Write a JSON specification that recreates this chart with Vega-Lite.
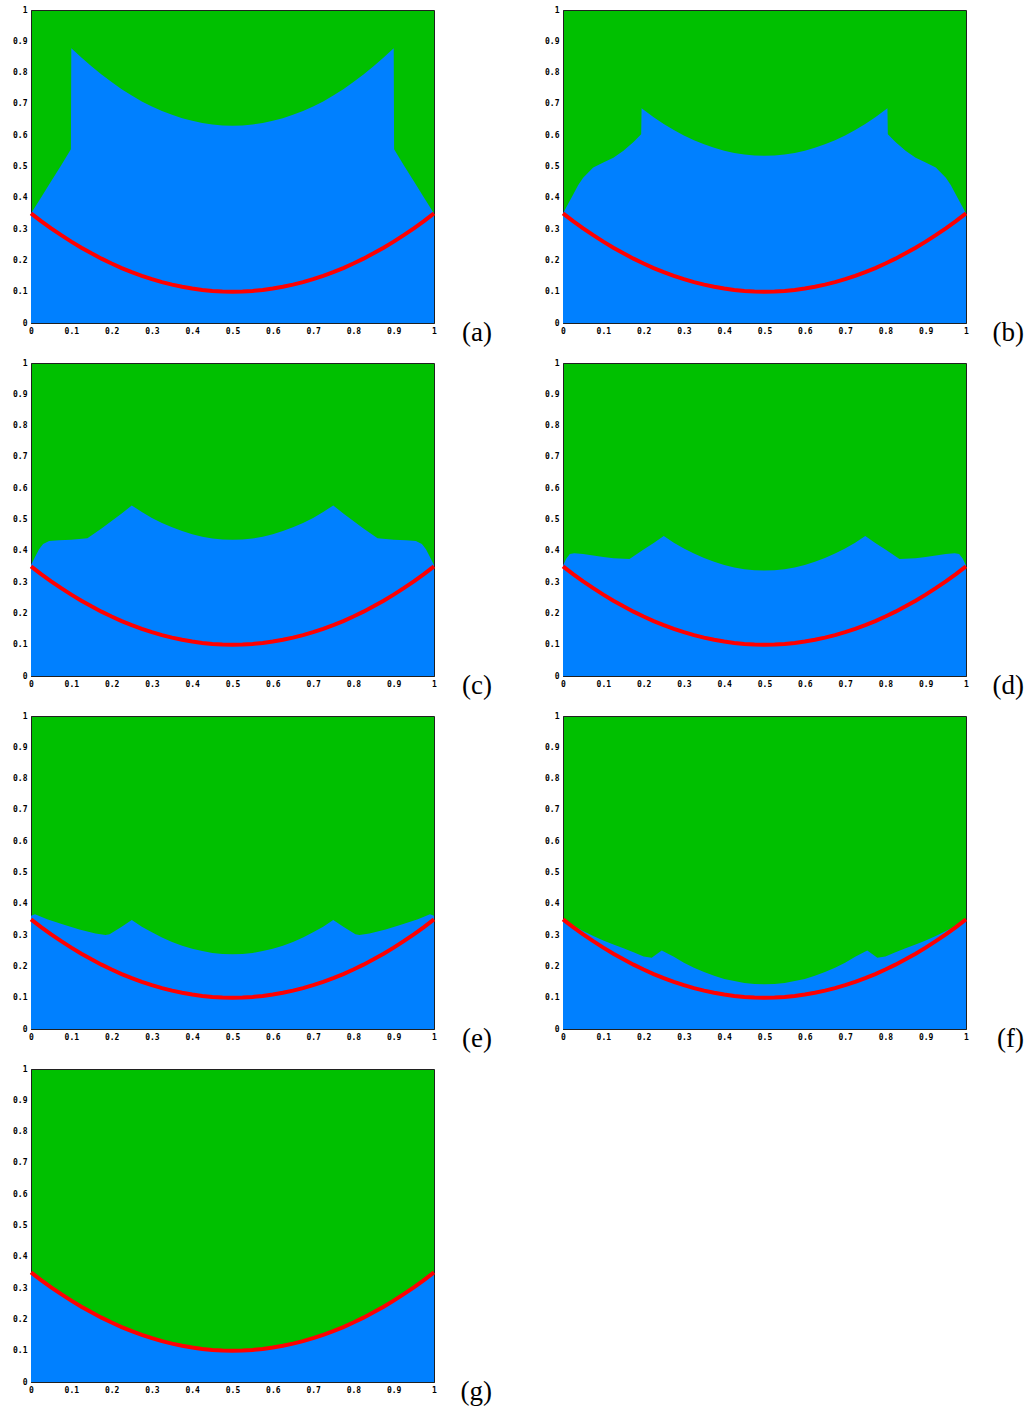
{
"$schema": "https://vega.github.io/schema/vega-lite/v6.json",
"autosize": {"type": "pad"},
"padding": {"left": 12, "top": 5, "right": 5, "bottom": 5},
"background": "white",
"bounds": "flush",
"columns": 2,
"spacing": {"row": 40, "column": 129},
"config": {
  "view": {"fill": "#00c000", "stroke": "#202020", "strokeWidth": 1},
  "axis": {"labelFont": "DejaVu Sans Mono", "labelFontWeight": "bold", "labelFontSize": 8, "labelColor": "black", "labelPadding": 4, "labelFlush": false, "labelOverlap": false, "ticks": false, "grid": false, "domain": true, "domainColor": "#202020", "domainWidth": 1, "zindex": 1},
  "title": {"orient": "bottom", "anchor": "end", "font": "Liberation Serif", "fontSize": 27, "fontWeight": "normal", "color": "black", "dx": 50, "dy": -19, "offset": 0}
},
"datasets": {
"curve": [{"x":0,"y":0.35},{"x":0.025,"y":0.3256},{"x":0.05,"y":0.3025},{"x":0.075,"y":0.2806},{"x":0.1,"y":0.26},{"x":0.125,"y":0.2406},{"x":0.15,"y":0.2225},{"x":0.175,"y":0.2056},{"x":0.2,"y":0.19},{"x":0.225,"y":0.1756},{"x":0.25,"y":0.1625},{"x":0.275,"y":0.1506},{"x":0.3,"y":0.14},{"x":0.325,"y":0.1306},{"x":0.35,"y":0.1225},{"x":0.375,"y":0.1156},{"x":0.4,"y":0.11},{"x":0.425,"y":0.1056},{"x":0.45,"y":0.1025},{"x":0.475,"y":0.1006},{"x":0.5,"y":0.1},{"x":0.525,"y":0.1006},{"x":0.55,"y":0.1025},{"x":0.575,"y":0.1056},{"x":0.6,"y":0.11},{"x":0.625,"y":0.1156},{"x":0.65,"y":0.1225},{"x":0.675,"y":0.1306},{"x":0.7,"y":0.14},{"x":0.725,"y":0.1506},{"x":0.75,"y":0.1625},{"x":0.775,"y":0.1756},{"x":0.8,"y":0.19},{"x":0.825,"y":0.2056},{"x":0.85,"y":0.2225},{"x":0.875,"y":0.2406},{"x":0.9,"y":0.26},{"x":0.925,"y":0.2806},{"x":0.95,"y":0.3025},{"x":0.975,"y":0.3256},{"x":1,"y":0.35}],
"a": [{"x":0,"y":0.35},{"x":0.025,"y":0.401},{"x":0.05,"y":0.453},{"x":0.075,"y":0.504},{"x":0.099,"y":0.555},{"x":0.1,"y":0.878},{"x":0.125,"y":0.848},{"x":0.15,"y":0.82},{"x":0.175,"y":0.794},{"x":0.2,"y":0.77},{"x":0.225,"y":0.747},{"x":0.25,"y":0.727},{"x":0.275,"y":0.708},{"x":0.3,"y":0.692},{"x":0.325,"y":0.677},{"x":0.35,"y":0.665},{"x":0.375,"y":0.654},{"x":0.4,"y":0.646},{"x":0.425,"y":0.639},{"x":0.45,"y":0.634},{"x":0.475,"y":0.631},{"x":0.5,"y":0.63},{"x":0.525,"y":0.631},{"x":0.55,"y":0.634},{"x":0.575,"y":0.639},{"x":0.6,"y":0.646},{"x":0.625,"y":0.654},{"x":0.65,"y":0.665},{"x":0.675,"y":0.677},{"x":0.7,"y":0.692},{"x":0.725,"y":0.708},{"x":0.75,"y":0.727},{"x":0.775,"y":0.747},{"x":0.8,"y":0.77},{"x":0.825,"y":0.794},{"x":0.85,"y":0.82},{"x":0.875,"y":0.848},{"x":0.9,"y":0.878},{"x":0.901,"y":0.555},{"x":0.925,"y":0.504},{"x":0.95,"y":0.453},{"x":0.975,"y":0.401},{"x":1,"y":0.35}],
"b": [{"x":0,"y":0.35},{"x":0.0125,"y":0.38},{"x":0.025,"y":0.41},{"x":0.0375,"y":0.44},{"x":0.05,"y":0.464},{"x":0.075,"y":0.497},{"x":0.1,"y":0.513},{"x":0.125,"y":0.528},{"x":0.15,"y":0.55},{"x":0.175,"y":0.578},{"x":0.194,"y":0.603},{"x":0.195,"y":0.686},{"x":0.225,"y":0.657},{"x":0.25,"y":0.636},{"x":0.275,"y":0.617},{"x":0.3,"y":0.599},{"x":0.325,"y":0.584},{"x":0.35,"y":0.571},{"x":0.375,"y":0.56},{"x":0.4,"y":0.55},{"x":0.425,"y":0.543},{"x":0.45,"y":0.538},{"x":0.475,"y":0.535},{"x":0.5,"y":0.534},{"x":0.525,"y":0.535},{"x":0.55,"y":0.538},{"x":0.575,"y":0.543},{"x":0.6,"y":0.55},{"x":0.625,"y":0.56},{"x":0.65,"y":0.571},{"x":0.675,"y":0.584},{"x":0.7,"y":0.599},{"x":0.725,"y":0.617},{"x":0.75,"y":0.636},{"x":0.775,"y":0.657},{"x":0.805,"y":0.686},{"x":0.806,"y":0.603},{"x":0.825,"y":0.578},{"x":0.85,"y":0.55},{"x":0.875,"y":0.528},{"x":0.9,"y":0.513},{"x":0.925,"y":0.497},{"x":0.95,"y":0.464},{"x":0.9625,"y":0.44},{"x":0.975,"y":0.41},{"x":0.9875,"y":0.38},{"x":1,"y":0.35}],
"c": [{"x":0,"y":0.355},{"x":0.01,"y":0.38},{"x":0.02,"y":0.405},{"x":0.03,"y":0.422},{"x":0.045,"y":0.431},{"x":0.07,"y":0.434},{"x":0.1,"y":0.435},{"x":0.14,"y":0.44},{"x":0.175,"y":0.471},{"x":0.2,"y":0.495},{"x":0.225,"y":0.519},{"x":0.25,"y":0.545},{"x":0.275,"y":0.524},{"x":0.3,"y":0.505},{"x":0.325,"y":0.489},{"x":0.35,"y":0.475},{"x":0.375,"y":0.463},{"x":0.4,"y":0.453},{"x":0.425,"y":0.445},{"x":0.45,"y":0.439},{"x":0.475,"y":0.436},{"x":0.5,"y":0.435},{"x":0.525,"y":0.436},{"x":0.55,"y":0.439},{"x":0.575,"y":0.445},{"x":0.6,"y":0.453},{"x":0.625,"y":0.463},{"x":0.65,"y":0.475},{"x":0.675,"y":0.489},{"x":0.7,"y":0.505},{"x":0.725,"y":0.524},{"x":0.75,"y":0.545},{"x":0.775,"y":0.519},{"x":0.8,"y":0.495},{"x":0.825,"y":0.471},{"x":0.86,"y":0.44},{"x":0.9,"y":0.435},{"x":0.93,"y":0.434},{"x":0.955,"y":0.431},{"x":0.97,"y":0.422},{"x":0.98,"y":0.405},{"x":0.99,"y":0.38},{"x":1,"y":0.355}],
"d": [{"x":0,"y":0.353},{"x":0.008,"y":0.375},{"x":0.017,"y":0.39},{"x":0.028,"y":0.392},{"x":0.05,"y":0.39},{"x":0.075,"y":0.385},{"x":0.1,"y":0.38},{"x":0.125,"y":0.376},{"x":0.165,"y":0.374},{"x":0.2,"y":0.404},{"x":0.225,"y":0.425},{"x":0.25,"y":0.447},{"x":0.275,"y":0.426},{"x":0.3,"y":0.407},{"x":0.325,"y":0.391},{"x":0.35,"y":0.377},{"x":0.375,"y":0.365},{"x":0.4,"y":0.355},{"x":0.425,"y":0.347},{"x":0.45,"y":0.341},{"x":0.475,"y":0.338},{"x":0.5,"y":0.337},{"x":0.525,"y":0.338},{"x":0.55,"y":0.341},{"x":0.575,"y":0.347},{"x":0.6,"y":0.355},{"x":0.625,"y":0.365},{"x":0.65,"y":0.377},{"x":0.675,"y":0.391},{"x":0.7,"y":0.407},{"x":0.725,"y":0.426},{"x":0.75,"y":0.447},{"x":0.775,"y":0.425},{"x":0.8,"y":0.404},{"x":0.835,"y":0.374},{"x":0.875,"y":0.376},{"x":0.9,"y":0.38},{"x":0.925,"y":0.385},{"x":0.95,"y":0.39},{"x":0.972,"y":0.392},{"x":0.983,"y":0.39},{"x":0.992,"y":0.375},{"x":1,"y":0.353}],
"e": [{"x":0,"y":0.362},{"x":0.01,"y":0.367},{"x":0.04,"y":0.351},{"x":0.08,"y":0.334},{"x":0.12,"y":0.318},{"x":0.16,"y":0.305},{"x":0.185,"y":0.3},{"x":0.195,"y":0.303},{"x":0.225,"y":0.327},{"x":0.25,"y":0.348},{"x":0.275,"y":0.327},{"x":0.3,"y":0.309},{"x":0.325,"y":0.292},{"x":0.35,"y":0.278},{"x":0.375,"y":0.266},{"x":0.4,"y":0.256},{"x":0.425,"y":0.249},{"x":0.45,"y":0.243},{"x":0.475,"y":0.24},{"x":0.5,"y":0.239},{"x":0.525,"y":0.24},{"x":0.55,"y":0.243},{"x":0.575,"y":0.249},{"x":0.6,"y":0.256},{"x":0.625,"y":0.266},{"x":0.65,"y":0.278},{"x":0.675,"y":0.292},{"x":0.7,"y":0.309},{"x":0.725,"y":0.327},{"x":0.75,"y":0.348},{"x":0.775,"y":0.327},{"x":0.805,"y":0.303},{"x":0.815,"y":0.3},{"x":0.84,"y":0.305},{"x":0.88,"y":0.318},{"x":0.92,"y":0.334},{"x":0.96,"y":0.351},{"x":0.99,"y":0.367},{"x":1,"y":0.362}],
"f": [{"x":0,"y":0.35},{"x":0.025,"y":0.33},{"x":0.05,"y":0.313},{"x":0.075,"y":0.297},{"x":0.1,"y":0.283},{"x":0.125,"y":0.27},{"x":0.15,"y":0.258},{"x":0.175,"y":0.245},{"x":0.2,"y":0.232},{"x":0.22,"y":0.228},{"x":0.245,"y":0.251},{"x":0.275,"y":0.231},{"x":0.3,"y":0.212},{"x":0.325,"y":0.196},{"x":0.35,"y":0.182},{"x":0.375,"y":0.17},{"x":0.4,"y":0.16},{"x":0.425,"y":0.153},{"x":0.45,"y":0.147},{"x":0.475,"y":0.144},{"x":0.5,"y":0.143},{"x":0.525,"y":0.144},{"x":0.55,"y":0.147},{"x":0.575,"y":0.153},{"x":0.6,"y":0.16},{"x":0.625,"y":0.17},{"x":0.65,"y":0.182},{"x":0.675,"y":0.196},{"x":0.7,"y":0.212},{"x":0.725,"y":0.231},{"x":0.755,"y":0.251},{"x":0.78,"y":0.228},{"x":0.8,"y":0.232},{"x":0.825,"y":0.245},{"x":0.85,"y":0.258},{"x":0.875,"y":0.27},{"x":0.9,"y":0.283},{"x":0.925,"y":0.297},{"x":0.95,"y":0.313},{"x":0.975,"y":0.33},{"x":1,"y":0.35}]
},
"concat": [
{"width": 403, "height": 313, "title": "(a)", "layer": [
 {"data": {"name": "a"}, "mark": {"type": "area", "color": "#0080ff"}, "encoding": {"x": {"field": "x", "type": "quantitative", "scale": {"domain": [0, 1]}, "axis": {"format": "~g", "tickCount": 10, "title": null}}, "y": {"field": "y", "type": "quantitative", "stack": null, "scale": {"domain": [0, 1]}, "axis": {"format": "~g", "tickCount": 10, "title": null}}}},
 {"data": {"name": "curve"}, "mark": {"type": "line", "color": "#ff0000", "strokeWidth": 4}, "encoding": {"x": {"field": "x", "type": "quantitative"}, "y": {"field": "y", "type": "quantitative"}}}
]},
{"width": 403, "height": 313, "title": "(b)", "layer": [
 {"data": {"name": "b"}, "mark": {"type": "area", "color": "#0080ff"}, "encoding": {"x": {"field": "x", "type": "quantitative", "scale": {"domain": [0, 1]}, "axis": {"format": "~g", "tickCount": 10, "title": null}}, "y": {"field": "y", "type": "quantitative", "stack": null, "scale": {"domain": [0, 1]}, "axis": {"format": "~g", "tickCount": 10, "title": null}}}},
 {"data": {"name": "curve"}, "mark": {"type": "line", "color": "#ff0000", "strokeWidth": 4}, "encoding": {"x": {"field": "x", "type": "quantitative"}, "y": {"field": "y", "type": "quantitative"}}}
]},
{"width": 403, "height": 313, "title": "(c)", "layer": [
 {"data": {"name": "c"}, "mark": {"type": "area", "color": "#0080ff"}, "encoding": {"x": {"field": "x", "type": "quantitative", "scale": {"domain": [0, 1]}, "axis": {"format": "~g", "tickCount": 10, "title": null}}, "y": {"field": "y", "type": "quantitative", "stack": null, "scale": {"domain": [0, 1]}, "axis": {"format": "~g", "tickCount": 10, "title": null}}}},
 {"data": {"name": "curve"}, "mark": {"type": "line", "color": "#ff0000", "strokeWidth": 4}, "encoding": {"x": {"field": "x", "type": "quantitative"}, "y": {"field": "y", "type": "quantitative"}}}
]},
{"width": 403, "height": 313, "title": "(d)", "layer": [
 {"data": {"name": "d"}, "mark": {"type": "area", "color": "#0080ff"}, "encoding": {"x": {"field": "x", "type": "quantitative", "scale": {"domain": [0, 1]}, "axis": {"format": "~g", "tickCount": 10, "title": null}}, "y": {"field": "y", "type": "quantitative", "stack": null, "scale": {"domain": [0, 1]}, "axis": {"format": "~g", "tickCount": 10, "title": null}}}},
 {"data": {"name": "curve"}, "mark": {"type": "line", "color": "#ff0000", "strokeWidth": 4}, "encoding": {"x": {"field": "x", "type": "quantitative"}, "y": {"field": "y", "type": "quantitative"}}}
]},
{"width": 403, "height": 313, "title": "(e)", "layer": [
 {"data": {"name": "e"}, "mark": {"type": "area", "color": "#0080ff"}, "encoding": {"x": {"field": "x", "type": "quantitative", "scale": {"domain": [0, 1]}, "axis": {"format": "~g", "tickCount": 10, "title": null}}, "y": {"field": "y", "type": "quantitative", "stack": null, "scale": {"domain": [0, 1]}, "axis": {"format": "~g", "tickCount": 10, "title": null}}}},
 {"data": {"name": "curve"}, "mark": {"type": "line", "color": "#ff0000", "strokeWidth": 4}, "encoding": {"x": {"field": "x", "type": "quantitative"}, "y": {"field": "y", "type": "quantitative"}}}
]},
{"width": 403, "height": 313, "title": "(f)", "layer": [
 {"data": {"name": "f"}, "mark": {"type": "area", "color": "#0080ff"}, "encoding": {"x": {"field": "x", "type": "quantitative", "scale": {"domain": [0, 1]}, "axis": {"format": "~g", "tickCount": 10, "title": null}}, "y": {"field": "y", "type": "quantitative", "stack": null, "scale": {"domain": [0, 1]}, "axis": {"format": "~g", "tickCount": 10, "title": null}}}},
 {"data": {"name": "curve"}, "mark": {"type": "line", "color": "#ff0000", "strokeWidth": 4}, "encoding": {"x": {"field": "x", "type": "quantitative"}, "y": {"field": "y", "type": "quantitative"}}}
]},
{"width": 403, "height": 313, "title": "(g)", "layer": [
 {"data": {"name": "curve"}, "mark": {"type": "area", "color": "#0080ff"}, "encoding": {"x": {"field": "x", "type": "quantitative", "scale": {"domain": [0, 1]}, "axis": {"format": "~g", "tickCount": 10, "title": null}}, "y": {"field": "y", "type": "quantitative", "stack": null, "scale": {"domain": [0, 1]}, "axis": {"format": "~g", "tickCount": 10, "title": null}}}},
 {"data": {"name": "curve"}, "mark": {"type": "line", "color": "#ff0000", "strokeWidth": 4}, "encoding": {"x": {"field": "x", "type": "quantitative"}, "y": {"field": "y", "type": "quantitative"}}}
]}
]
}
